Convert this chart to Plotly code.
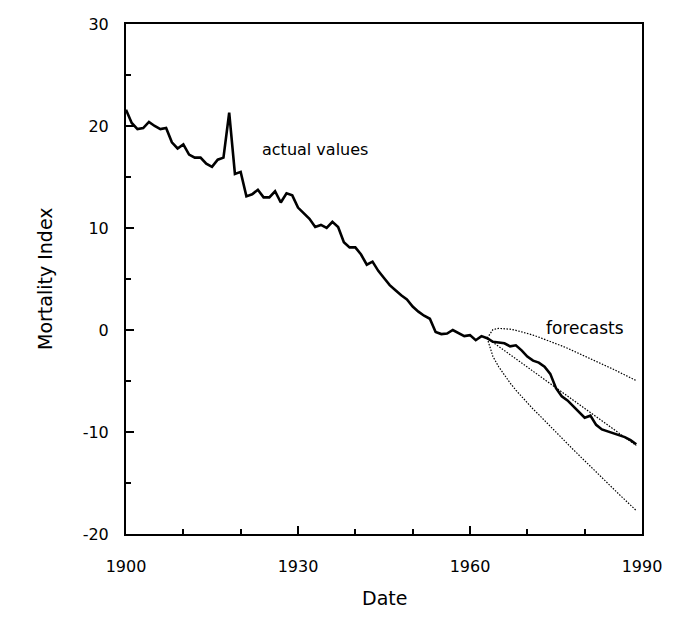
import plotly.graph_objects as go

years = list(range(1900, 1990))
actual = [
    21.6, 20.3, 19.7, 19.8, 20.4, 20.0, 19.7, 19.8, 18.4, 17.8,
    18.2, 17.2, 16.9, 16.9, 16.3, 16.0, 16.7, 16.9, 21.3, 15.3,
    15.5, 13.1, 13.3, 13.75, 13.0, 13.0, 13.6, 12.5, 13.4, 13.2,
    12.0, 11.4, 10.9, 10.1, 10.3, 10.0, 10.6, 10.1, 8.6, 8.1,
    8.1, 7.4, 6.4, 6.7, 5.8, 5.1, 4.4, 3.9, 3.4, 3.0,
    2.3, 1.8, 1.4, 1.1, -0.2, -0.4, -0.35, 0.0, -0.3, -0.6,
    -0.5, -1.0, -0.6, -0.8, -1.15, -1.2, -1.3, -1.6, -1.5, -2.0,
    -2.6, -3.0, -3.2, -3.6, -4.3, -5.7, -6.5, -6.9, -7.5, -8.0,
    -8.6, -8.4, -9.3, -9.75, -9.95, -10.1, -10.3, -10.5, -10.8, -11.2,
]

fc_years = list(range(1963, 1990))
fc_mid = [
    -0.80, -1.21, -1.61, -2.02, -2.42, -2.83, -3.23, -3.64, -4.04, -4.45,
    -4.85, -5.26, -5.66, -6.07, -6.47, -6.88, -7.28, -7.69, -8.09, -8.50,
    -8.90, -9.31, -9.71, -10.12, -10.52, -10.93, -11.33,
]
fc_upper = [
    -0.80, 0.04, 0.16, 0.15, 0.08, -0.03, -0.17, -0.33, -0.50, -0.70,
    -0.90, -1.11, -1.33, -1.56, -1.79, -2.04, -2.28, -2.54, -2.79, -3.05,
    -3.31, -3.58, -3.85, -4.13, -4.40, -4.68, -4.96,
]
fc_lower = [
    -0.80, -2.60, -3.60, -4.45, -5.20, -5.90, -6.55, -7.15, -7.75, -8.30,
    -8.85, -9.40, -9.99, -10.58, -11.15, -11.72, -12.28, -12.84, -13.39, -13.95,
    -14.49, -15.04, -15.57, -16.11, -16.64, -17.18, -17.70,
]

x_ticks = [1900, 1930, 1960, 1990]
x_tick_labels = ["1900", "1930", "1960", "1990"]
y_ticks = [-20, -10, 0, 10, 20, 30]
y_tick_labels = ["-20", "-10", "0", "10", "20", "30"]

FONT = "DejaVu Sans"

fig = go.Figure()
for series in (fc_upper, fc_mid, fc_lower):
    fig.add_trace(go.Scatter(
        x=fc_years, y=series, mode="lines",
        line=dict(color="black", width=1.2, dash="1.5px,1.5px"),
        showlegend=False, hoverinfo="skip",
    ))
fig.add_trace(go.Scatter(
    x=years, y=actual, mode="lines",
    line=dict(color="black", width=2.6),
    showlegend=False,
))

axis_common = dict(
    showgrid=False, zeroline=False,
    showline=True, linecolor="black", linewidth=2, mirror=True,
    ticks="inside", ticklen=8, tickwidth=2, tickcolor="black",
    tickfont=dict(family=FONT, size=16, color="black"),
)

fig.update_xaxes(
    range=[1900, 1990], tickvals=x_ticks, ticktext=x_tick_labels, ticklabelstandoff=17,
    minor=dict(dtick=10, tick0=1900, ticks="inside", ticklen=5, tickwidth=2, tickcolor="black"),
    **axis_common,
)
fig.update_yaxes(
    range=[-20, 30], tickvals=y_ticks, ticktext=y_tick_labels, ticklabelstandoff=12,
    minor=dict(dtick=5, tick0=0, ticks="inside", ticklen=5, tickwidth=2, tickcolor="black"),
    **axis_common,
)

fig.add_annotation(x=1923.4, y=17.7, text="actual values", showarrow=False,
                   xanchor="left", yanchor="middle",
                   font=dict(family=FONT, size=16, color="black"))
fig.add_annotation(x=1980.0, y=0.2, text="forecasts", showarrow=False,
                   xanchor="center", yanchor="middle",
                   font=dict(family=FONT, size=17, color="black"))
fig.add_annotation(xref="paper", yref="paper", x=0, y=0.5, xshift=-81,
                   text="Mortality Index", textangle=-90, showarrow=False,
                   xanchor="center", yanchor="middle",
                   font=dict(family=FONT, size=19, color="black"))
fig.add_annotation(xref="paper", yref="paper", x=0.5, y=0, yshift=-64,
                   text="Date", showarrow=False,
                   xanchor="center", yanchor="middle",
                   font=dict(family=FONT, size=19, color="black"))

fig.update_layout(
    width=674, height=626, autosize=False,
    margin=dict(l=126, r=26, t=24, b=92),
    plot_bgcolor="white", paper_bgcolor="white",
)

fig.write_html("out.html", config={"displayModeBar": False},
               post_script="document.body.style.margin='0';")
